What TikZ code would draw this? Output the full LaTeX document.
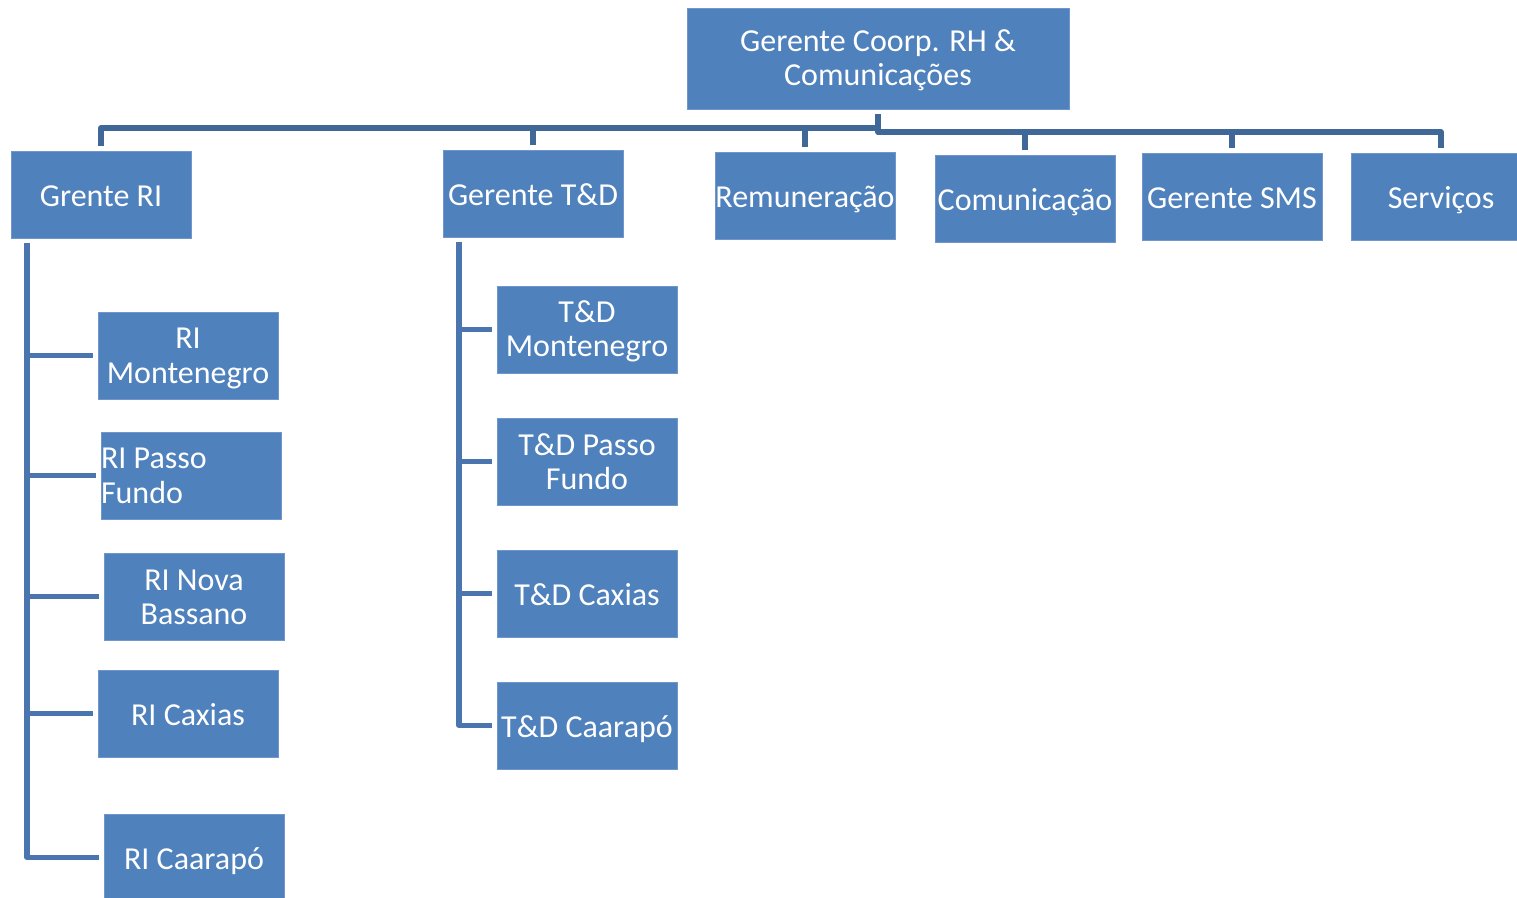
\documentclass[tikz,border=0pt]{standalone}
\usepackage{fontspec}
\setmainfont{Carlito}
\definecolor{boxfill}{HTML}{4F81BD}
\definecolor{boxline}{HTML}{7096CB}
\definecolor{busc}{HTML}{3F6797}
\definecolor{branchc}{HTML}{4A75AE}
\tikzset{
  orgbox/.style={draw=boxline, line width=0.6pt, fill=boxfill, text=white,
    minimum width=135pt, minimum height=65.25pt, inner sep=0pt, outer sep=4pt,
    font=\fontsize{24}{25.5}\selectfont, align=center,
    text height=24pt, text depth=6pt},
  twoline/.style={text height=47.25pt, text depth=6pt},
  twolineleft/.style={align=flush left, text width=135pt, text height=21.75pt, text depth=31.5pt},
  bus/.style={draw=busc, line width=3.9pt, line join=round},
  branch/.style={draw=branchc, line width=3.9pt, line join=round}
}
\begin{document}
\begin{tikzpicture}[x=0.75pt,y=-0.75pt]
\useasboundingbox (0,0) rectangle (1517,898);
\clip (0,0) rectangle (1517,898);
% top
\node[orgbox, twoline, minimum width=286.5pt, minimum height=75.75pt] (top) at (878,58.5) {Gerente Coorp. RH \&\\Comunica\c{c}\~oes};
% second level
\node[orgbox] (ri)   at (101,194.5) {Grente RI};
\node[orgbox] (tnd)  at (533,193.5) {Gerente T\&D};
\node[orgbox] (rem)  at (805,195.5) {Remunera\c{c}\~ao};
\node[orgbox] (com)  at (1025,199) {Comunica\c{c}\~ao};
\node[orgbox] (sms)  at (1232,197) {Gerente SMS};
\node[orgbox] (serv) at (1441,197) {Servi\c{c}os};
% RI children
\node[orgbox, twoline] (ri1) at (188,355.5) {RI\\Montenegro};
\node[orgbox, twolineleft] (ri2) at (191,475.5) {RI Passo\\Fundo};
\node[orgbox, twoline] (ri3) at (194,596.5) {RI Nova\\Bassano};
\node[orgbox] (ri4) at (188,713.5) {RI Caxias};
\node[orgbox] (ri5) at (194,857.5) {RI Caarap\'o};
% T&D children
\node[orgbox, twoline] (td1) at (587,329.5) {T\&D\\Montenegro};
\node[orgbox, twoline] (td2) at (587,461.5) {T\&D Passo\\Fundo};
\node[orgbox] (td3) at (587,593.5) {T\&D Caxias};
\node[orgbox] (td4) at (587,725.5) {T\&D Caarap\'o};
% buses
\coordinate (busL) at (0,128);
\coordinate (busR) at (0,132);
\draw[bus] (top.south) -- (top.south |- busR) -- (busR -| serv.north) -- (serv.north);
\draw[bus] (top.south |- busL) -- (busL -| ri.north) -- (ri.north);
\draw[bus] (tnd.north |- busL) -- (tnd.north);
\draw[bus] (rem.north |- busL) -- (rem.north);
\draw[bus] (com.north |- busR) -- (com.north);
\draw[bus] (sms.north |- busR) -- (sms.north);
% RI branch
\coordinate (riV) at (27,0);
\draw[branch] (ri.south -| riV) |- (ri5.west);
\foreach \n in {ri1,ri2,ri3,ri4}{\draw[branch] (\n.west -| riV) -- (\n.west);}
% T&D branch
\coordinate (tdV) at (459,0);
\draw[branch] (tnd.south -| tdV) |- (td4.west);
\foreach \n in {td1,td2,td3}{\draw[branch] (\n.west -| tdV) -- (\n.west);}
\end{tikzpicture}
\end{document}
